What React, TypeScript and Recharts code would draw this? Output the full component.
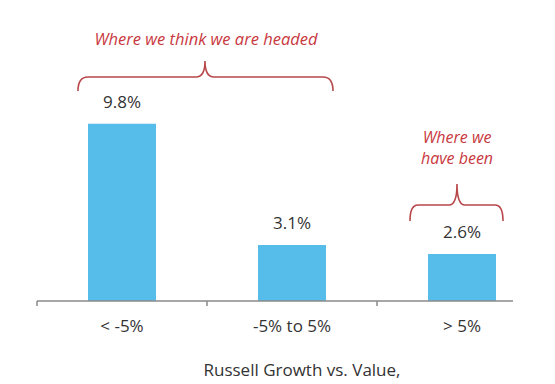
import React from 'react';
import { BarChart, Bar, XAxis, YAxis, LabelList, Customized } from 'recharts';

const CATEGORIES = ['< -5%', '-5% to 5%', '> 5%'];
const VALUES = [9.8, 3.1, 2.6];
const AXIS_TITLE = 'Russell Growth vs. Value,';
const NOTE_HEADED = 'Where we think we are headed';
const NOTE_BEEN = ['Where we', 'have been'];

const data = CATEGORIES.map((c, i) => ({ category: c, value: VALUES[i] }));

const FONT = '"Open Sans", sans-serif';
const TEXT = '#333333';
const BLUE = '#56BDEB';
const RED_TEXT = '#C8383E';
const RED_LINE = '#B8474A';

const Tick = (props: any) => {
  const { x, y, payload, width } = props;
  const band = (width || 510) / CATEGORIES.length;
  return (
    <g>
      <line x1={x - band / 2} y1={y} x2={x - band / 2} y2={y + 5} stroke="#8a8a8a" strokeWidth={1.5} />
      <text x={x} y={y + 31} textAnchor="middle" fill={TEXT} fontFamily={FONT} fontSize={17}>
        {payload.value}
      </text>
    </g>
  );
};

const Annotations = () => (
  <g>
    <text x={206} y={45} textAnchor="middle" fill={RED_TEXT} fontFamily={FONT} fontStyle="italic" fontSize={16.5}>
      {NOTE_HEADED}
    </text>
    <path
      d="M78,91 Q78,77 88,77 L196,77 Q205,77 205,61 Q205,77 214,77 L323,77 Q333,77 333,91"
      fill="none"
      stroke={RED_LINE}
      strokeWidth={1.6}
    />
    <text x={457} y={143} textAnchor="middle" fill={RED_TEXT} fontFamily={FONT} fontStyle="italic" fontSize={16}>
      {NOTE_BEEN[0]}
    </text>
    <text x={457} y={164} textAnchor="middle" fill={RED_TEXT} fontFamily={FONT} fontStyle="italic" fontSize={16}>
      {NOTE_BEEN[1]}
    </text>
    <path
      d="M410,221 Q410,205 418,205 L449,205 Q457,205 457,184 Q457,205 465,205 L495,205 Q503,205 503,221"
      fill="none"
      stroke={RED_LINE}
      strokeWidth={1.6}
    />
    <text x={302} y={376} textAnchor="middle" fill={TEXT} fontFamily={FONT} fontSize={17}>
      {AXIS_TITLE}
    </text>
  </g>
);

export default function App() {
  return (
    <div style={{ position: 'absolute', left: 0, top: 0, width: 555, height: 384, background: '#fff' }}>
      <BarChart
        width={555}
        height={384}
        data={data}
        margin={{ top: 102, right: 8, bottom: 53, left: 37 }}
      >
        <YAxis hide domain={[0, 11]} />
        <XAxis
          dataKey="category"
          height={30}
          tickSize={0}
          tickMargin={0}
          tickLine={false}
          axisLine={{ stroke: '#8a8a8a', strokeWidth: 1.5, strokeDasharray: '476 2000' }}
          tick={<Tick />}
          interval={0}
        />
        <Bar dataKey="value" fill={BLUE} barSize={68} isAnimationActive={false}>
          <LabelList
            dataKey="value"
            position="top"
            offset={16}
            formatter={(v: any) => `${Number(v).toFixed(1)}%`}
            fill={TEXT}
            fontFamily={FONT}
            fontSize={17}
          />
        </Bar>
        <Customized component={Annotations} />
      </BarChart>
    </div>
  );
}
